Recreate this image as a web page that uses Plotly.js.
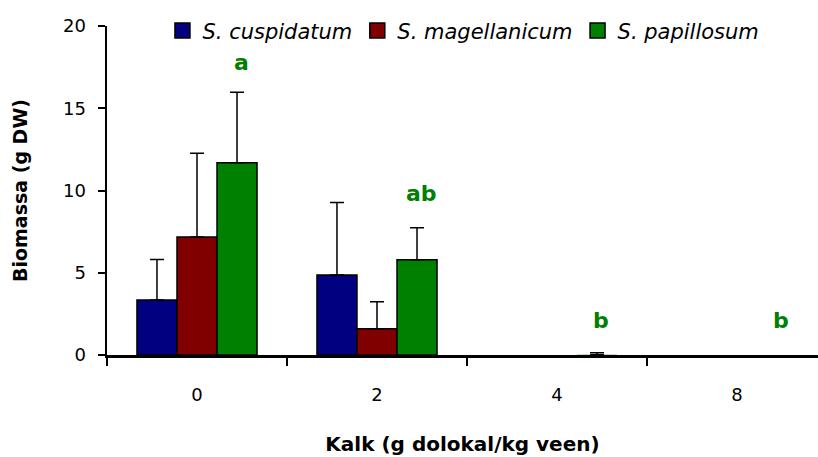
<!DOCTYPE html>
<html>
<head>
<meta charset="utf-8">
<script src="https://cdn.plot.ly/plotly-3.0.1.min.js"></script>
<style>html,body{margin:0;padding:0;background:#fff;}#chart{width:818px;height:457px;}</style>
</head>
<body>
<div id="chart"></div>
<script>
// ---- data ----
const categories = ['0', '2', '4', '8'];
const seriesNames = ['S. cuspidatum', 'S. magellanicum', 'S. papillosum'];
const cuspidatum = [3.35, 4.86, null, null];
const cuspidatumErr = [2.45, 4.41, null, null];
const magellanicum = [7.17, 1.59, null, null];
const magellanicumErr = [5.09, 1.64, null, null];
const papillosum = [11.69, 5.79, 0.02, null];
const papillosumErr = [4.29, 1.95, 0.12, null];
const letters = ['a', 'ab', 'b', 'b'];
const letterY = [17.8, 9.8, 2.1, 2.1];
const yTicks = [0, 5, 10, 15, 20];

// ---- styles ----
const colors = ['#000080', '#800000', '#008000'];
const values = [cuspidatum, magellanicum, papillosum];
const errors = [cuspidatumErr, magellanicumErr, papillosumErr];
const baseFont = 'DejaVu Sans, Verdana, sans-serif';

const traces = [];
values.forEach((v, i) => {
  traces.push({
    type: 'bar',
    x: categories,
    y: v,
    name: seriesNames[i],
    showlegend: false,
    marker: {color: colors[i], line: {color: '#000', width: v.map(d => d !== null && d > 0.5 ? 1.5 : 0)}},
    error_y: {
      type: 'data', symmetric: false, array: errors[i],
      arrayminus: errors[i].map(() => 0),
      color: '#000', thickness: 1.5, width: 7
    },
    hoverinfo: 'x+y+name'
  });
});
// legend entries (square swatches)
seriesNames.forEach((n, i) => {
  traces.push({
    type: 'scatter', mode: 'markers', x: [null], y: [null], name: n,
    marker: {symbol: 'square', size: 15, color: colors[i], line: {color: '#000', width: 1.5}}
  });
});

const annotations = letters.map((t, i) => ({
  x: i, y: letterY[i], xref: 'x', yref: 'y',
  text: '<b>' + t + '</b>', showarrow: false, xshift: 44,
  font: {family: baseFont, size: 22, color: '#008000'},
  xanchor: 'center', yanchor: 'middle'
}));

const layout = {
  width: 818, height: 457,
  margin: {l: 107, r: 0, t: 26, b: 102, pad: 0},
  paper_bgcolor: '#fff', plot_bgcolor: '#fff',
  font: {family: baseFont, size: 18, color: '#000'},
  barmode: 'group', bargap: 0.333, bargroupgap: 0,
  showlegend: true,
  legend: {
    orientation: 'h', x: 0.078, xanchor: 'left', y: 0.985, yanchor: 'middle',
    font: {family: baseFont, size: 21, style: 'italic', color: '#000'},
    bgcolor: 'rgba(0,0,0,0)', itemclick: false
  },
  xaxis: {
    type: 'category', range: [-0.5, 3.45], autorange: false,
    showline: true, linecolor: '#000', linewidth: 2.5,
    ticks: 'outside', tickson: 'boundaries', ticklen: 8, tickwidth: 2, tickcolor: '#000',
    ticklabelstandoff: 22,
    showgrid: false, zeroline: false,
    tickfont: {family: baseFont, size: 18},
    title: {text: '<b>Kalk (g dolokal/kg veen)</b>', font: {family: baseFont, size: 20}, standoff: 33}
  },
  yaxis: {
    range: [0, 20], autorange: false, tickvals: yTicks, ticktext: yTicks.map(String),
    showline: true, linecolor: '#000', linewidth: 2.5,
    ticks: 'outside', ticklen: 7, tickwidth: 2, tickcolor: '#000',
    ticklabelstandoff: 8,
    showgrid: false, zeroline: false,
    tickfont: {family: baseFont, size: 18},
    title: {text: '<b>Biomassa (g DW)</b>', font: {family: baseFont, size: 19}, standoff: 31}
  },
  annotations: annotations
};

Plotly.newPlot('chart', traces, layout, {displayModeBar: false, staticPlot: true});
</script>
</body>
</html>
